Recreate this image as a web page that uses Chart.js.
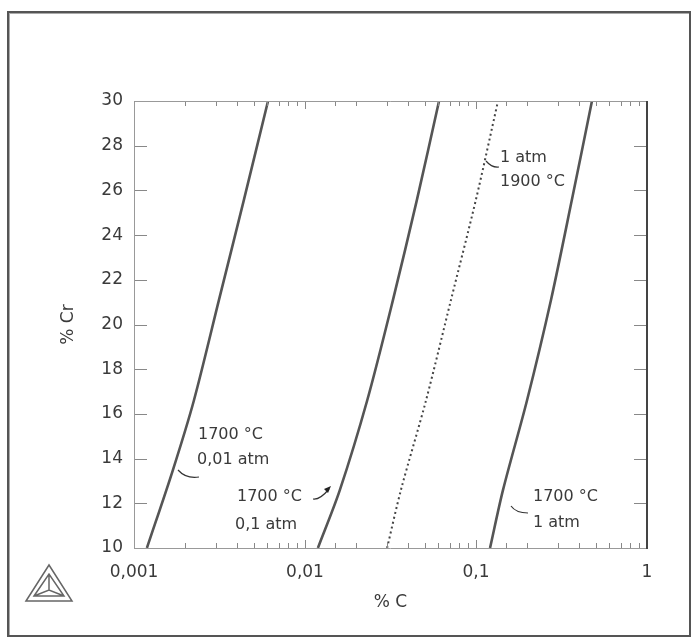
<!DOCTYPE html>
<html>
<head>
<meta charset="utf-8">
<script src="https://cdn.jsdelivr.net/npm/chart.js@4.4.1/dist/chart.umd.min.js"></script>
<style>
  body { margin: 0; background: #fff; }
  #frame { position: absolute; left: 7px; top: 11px; width: 680px; height: 622px;
           border: 2px solid #555; box-shadow: inset 1px 1px 0 #aaa; }
  #wrap { position: absolute; left: 0; top: 0; width: 697px; height: 644px; }
</style>
</head>
<body>
<div id="frame"></div>
<div id="wrap"><canvas id="myChart" width="697" height="644"></canvas></div>
<script>
// % Cr levels where each curve was read, and % C values on them
var crLevels = [10, 12.6, 16.6, 21.1, 25.6, 30];

var cr1 = [10, 13.5, 16.6, 21.1, 25.6, 30];
var c1  = [0.00119, 0.00169, 0.00224, 0.00314, 0.00440, 0.00608];   // 1700 °C, 0,01 atm

var c2  = [0.0119, 0.0160, 0.0231, 0.0327, 0.0452, 0.0608];         // 1700 °C, 0,1 atm
var c3  = [0.0302, 0.0364, 0.0510, 0.0714, 0.1000, 0.1345];         // 1900 °C, 1 atm
var c4  = [0.1208, 0.1439, 0.1987, 0.2745, 0.3642, 0.4766];         // 1700 °C, 1 atm

var xTickLabels = {0.001: "0,001", 0.01: "0,01", 0.1: "0,1", 1: "1"};

function pts(xs, ys) {
    return xs.map(function (x, i) { return {x: x, y: ys[i]}; });
}

var FONT = "'DejaVu Sans', sans-serif";
var TXT = '#3a3a3a';

// inner tick marks, frame, curve labels and the logo
var decor = {
    id: 'decor',
    afterDraw: function (chart) {
        var ctx = chart.ctx, a = chart.chartArea;
        var xs = chart.scales.x, ys = chart.scales.y;
        ctx.save();
        ctx.strokeStyle = '#888';
        ctx.lineWidth = 1;
        ctx.beginPath();
        xs.ticks.forEach(function (t) {
            var px = Math.round(xs.getPixelForValue(t.value)) + 0.5;
            var major = Math.abs(Math.log10(t.value) - Math.round(Math.log10(t.value))) < 1e-6;
            var len = major ? 8 : 5;
            ctx.moveTo(px, a.bottom); ctx.lineTo(px, a.bottom - len);
            ctx.moveTo(px, a.top); ctx.lineTo(px, a.top + len);
        });
        ys.ticks.forEach(function (t) {
            var py = Math.round(ys.getPixelForValue(t.value)) + 0.5;
            ctx.moveTo(a.left, py); ctx.lineTo(a.left + 13, py);
            ctx.moveTo(a.right, py); ctx.lineTo(a.right - 13, py);
        });
        ctx.stroke();

        // plot frame
        ctx.strokeStyle = '#999';
        ctx.beginPath();
        ctx.moveTo(a.left + 0.5, a.bottom + 0.5);
        ctx.lineTo(a.left + 0.5, a.top + 0.5);
        ctx.lineTo(a.right, a.top + 0.5);
        ctx.moveTo(a.left, a.bottom + 0.5);
        ctx.lineTo(a.right, a.bottom + 0.5);
        ctx.stroke();
        ctx.strokeStyle = '#444';
        ctx.lineWidth = 2;
        ctx.beginPath();
        ctx.moveTo(a.right, a.top); ctx.lineTo(a.right, a.bottom + 1);
        ctx.stroke();

        // curve labels
        ctx.fillStyle = TXT;
        ctx.font = "16px " + FONT;
        ctx.textBaseline = 'middle';
        ctx.textAlign = 'left';
        var labels = [
            ["1700 °C", 198, 435], ["0,01 atm", 197, 460],
            ["1700 °C", 237, 497], ["0,1 atm", 235, 525],
            ["1 atm", 500, 158], ["1900 °C", 500, 182],
            ["1700 °C", 533, 497], ["1 atm", 533, 523]
        ];
        labels.forEach(function (l) { ctx.fillText(l[0], l[1], l[2]); });

        // leader lines
        ctx.strokeStyle = '#333';
        ctx.lineWidth = 1.2;
        ctx.beginPath();
        ctx.moveTo(178, 470); ctx.quadraticCurveTo(186, 479, 199, 477);
        ctx.moveTo(313, 499); ctx.quadraticCurveTo(320, 500, 329, 489);
        ctx.moveTo(486, 161); ctx.quadraticCurveTo(492, 168, 499, 167);
        ctx.moveTo(511, 506); ctx.quadraticCurveTo(516, 513, 528, 513);
        ctx.stroke();
        ctx.fillStyle = '#222';
        ctx.beginPath();
        ctx.moveTo(331, 486); ctx.lineTo(324, 489); ctx.lineTo(328, 493); ctx.closePath();
        ctx.fill();

        // logo
        ctx.strokeStyle = '#666';
        ctx.lineWidth = 1.5;
        ctx.beginPath();
        ctx.moveTo(26, 601); ctx.lineTo(49, 565); ctx.lineTo(72, 601); ctx.closePath();
        ctx.moveTo(34, 596); ctx.lineTo(49, 574); ctx.lineTo(64, 596); ctx.closePath();
        ctx.moveTo(49, 574); ctx.lineTo(49, 590);
        ctx.moveTo(34, 596); ctx.lineTo(49, 590); ctx.lineTo(64, 596);
        ctx.stroke();
        ctx.restore();
    }
};

var ctx = document.getElementById('myChart').getContext('2d');
var chart = new Chart(ctx, {
    type: 'line',
    data: {
        datasets: [
            {label: "1700 °C, 0,01 atm", data: pts(c1, cr1), borderColor: '#555', borderWidth: 2.6},
            {label: "1700 °C, 0,1 atm", data: pts(c2, crLevels), borderColor: '#555', borderWidth: 2.6},
            {label: "1900 °C, 1 atm", data: pts(c3, crLevels), borderColor: '#444', borderWidth: 2, borderDash: [2, 3]},
            {label: "1700 °C, 1 atm", data: pts(c4, crLevels), borderColor: '#555', borderWidth: 2.6}
        ]
    },
    options: {
        responsive: false,
        animation: false,
        layout: {padding: {left: 0, top: 101, right: 50, bottom: 0}},
        elements: {point: {radius: 0}, line: {tension: 0.3, fill: false}},
        plugins: {legend: {display: false}, tooltip: {enabled: false}},
        scales: {
            x: {
                type: 'logarithmic',
                min: 0.001, max: 1,
                afterFit: function (s) { s.height = 96; },
                grid: {display: false, drawTicks: false},
                border: {display: false},
                ticks: {
                    autoSkip: false, maxRotation: 0, padding: 14,
                    color: TXT, font: {family: FONT, size: 17},
                    callback: function (v) {
                        for (var k in xTickLabels) {
                            if (Math.abs(v - Number(k)) < 1e-9) return xTickLabels[k];
                        }
                        return '';
                    }
                },
                title: {display: true, text: '% C', color: TXT, font: {family: FONT, size: 17}, padding: {top: 0, bottom: 31}}
            },
            y: {
                min: 10, max: 30,
                afterFit: function (s) { s.width = 134; },
                grid: {display: false, drawTicks: false},
                border: {display: false},
                ticks: {stepSize: 2, padding: 11, color: TXT, font: {family: FONT, size: 17}},
                title: {display: true, text: '% Cr', color: TXT, font: {family: FONT, size: 17}, padding: {top: 58, bottom: 0}}
            }
        }
    },
    plugins: [decor]
});
</script>
</body>
</html>
